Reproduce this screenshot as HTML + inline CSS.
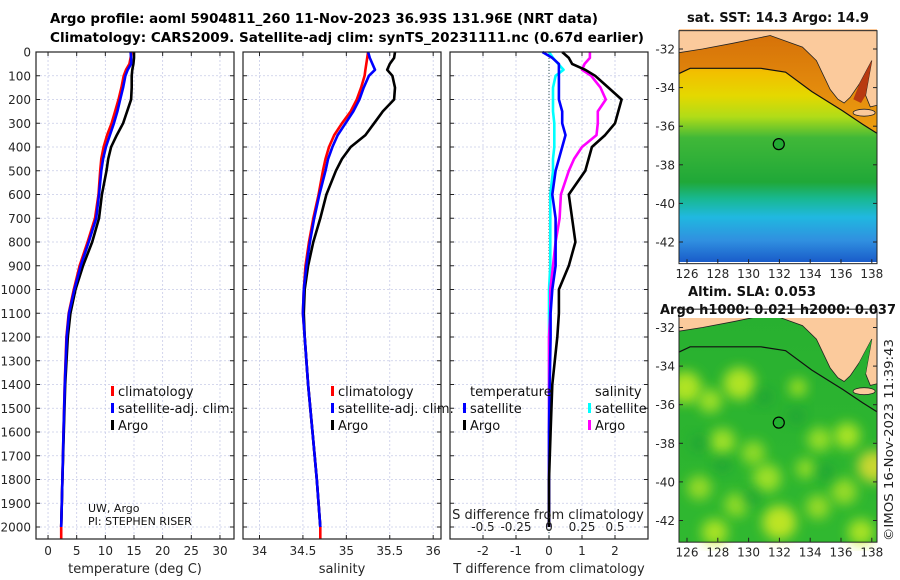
<!DOCTYPE html>
<html><head><meta charset="utf-8">
<style>
html,body{margin:0;padding:0;background:#fff;}
svg{display:block;font-family:"DejaVu Sans","Liberation Sans",sans-serif;}
</style></head>
<body>
<svg id="fig" width="900" height="580" viewBox="0 0 900 580" xmlns="http://www.w3.org/2000/svg">
<rect width="900" height="580" fill="#fff"/>
<text x="50" y="23" font-size="13" font-weight="bold" textLength="548" lengthAdjust="spacingAndGlyphs">Argo profile: aoml 5904811_260 11-Nov-2023 36.93S 131.96E (NRT data)</text>
<text x="50" y="42" font-size="13" font-weight="bold" textLength="594" lengthAdjust="spacingAndGlyphs">Climatology: CARS2009. Satellite-adj clim: synTS_20231111.nc (0.67d earlier)</text>
<g id="plots"></g>
<g id="maps"></g>
<text transform="translate(893,541) rotate(-90)" font-size="12" fill="#222" textLength="202" lengthAdjust="spacingAndGlyphs">©IMOS 16-Nov-2023 11:39:43</text>
</svg>
<script>
// ---- data ----
const depths = [0,25,50,75,100,150,200,250,300,350,400,450,500,600,700,800,900,1000,1100,1200,1400,1600,1800,2000];
const argoT = [15.0,15.0,14.9,14.7,14.6,14.6,14.5,13.8,13.1,12.0,11.0,10.5,10.2,9.4,8.9,7.7,6.1,4.8,3.9,3.45,3.0,2.75,2.5,2.3];
const climT = [14.6,14.4,14.2,13.6,13.2,12.8,12.3,11.7,11.1,10.3,9.7,9.3,9.1,8.8,8.2,6.9,5.5,4.5,3.6,3.2,2.9,2.7,2.5,2.3];
const satT  = [14.4,14.5,14.5,13.9,13.5,13.1,12.6,12.1,11.5,10.8,10.1,9.6,9.3,8.9,8.4,7.1,5.7,4.6,3.65,3.25,2.92,2.7,2.5,2.3];
const argoS = [35.56,35.55,35.50,35.47,35.53,35.56,35.55,35.42,35.32,35.22,35.05,34.95,34.88,34.77,34.70,34.62,34.56,34.52,34.51,34.52,34.56,34.61,34.66,34.70];
const climS = [35.25,35.24,35.23,35.22,35.21,35.17,35.12,35.05,34.95,34.86,34.80,34.76,34.73,34.68,34.62,34.57,34.53,34.51,34.50,34.52,34.56,34.61,34.66,34.70];
const satS  = [35.25,35.27,35.30,35.33,35.26,35.20,35.15,35.08,34.99,34.90,34.84,34.79,34.76,34.69,34.63,34.58,34.54,34.51,34.50,34.52,34.56,34.61,34.66,34.70];
const depthTicks = [0,100,200,300,400,500,600,700,800,900,1000,1100,1200,1300,1400,1500,1600,1700,1800,1900,2000];
const tempTicks = [0,5,10,15,20,25,30];
const salTicks = [34,34.5,35,35.5,36];
const tdiffTicks = [-2,-1,0,1,2];
const sdiffTicks = [-0.5,-0.25,0,0.25,0.5];
const sdiffLabels = ['-0.5','-0.25','0','0.25','0.5'];

const NS='http://www.w3.org/2000/svg';
function mk(tag,attrs,parent){const e=document.createElementNS(NS,tag);for(const k in attrs)e.setAttribute(k,attrs[k]);parent.appendChild(e);return e;}
const plots=document.getElementById('plots');
const yTop=52, yBot=539;
function yOf(d){return yTop+d*0.2375;}

const panels=[
 {x0:36,x1:234,lo:-2.1,hi:32.45,name:'temperature-panel'},
 {x0:243,x1:441,lo:33.81,hi:36.09,name:'salinity-panel'},
 {x0:450,x1:648,lo:-3,hi:3,name:'difference-panel'}
];
function sx(p,v){return p.x0+(v-p.lo)/(p.hi-p.lo)*(p.x1-p.x0);}

panels.forEach((p,i)=>{
  const g=mk('g',{},plots);
  
  
  const ticks = i==0?tempTicks:(i==1?salTicks:tdiffTicks);
  ticks.forEach(t=>{
    const x=sx(p,t);
    const gl=mk('line',{x1:x,x2:x,y1:yTop,y2:yBot,stroke:'#c8cce8','stroke-width':0.8,'stroke-dasharray':'2,2'},g);
    
    
    mk('line',{x1:x,x2:x,y1:yBot,y2:yBot-4,stroke:'#222'},g);
    mk('line',{x1:x,x2:x,y1:yTop,y2:yTop+4,stroke:'#222'},g);
    const tl=mk('text',{x:x,y:555,'font-size':12,'text-anchor':'middle',fill:'#262626'},g);
    tl.textContent = String(t);
    
    
  });
  depthTicks.forEach(d=>{
    const y=yOf(d);
    const gl=mk('line',{x1:p.x0,x2:p.x1,y1:y,y2:y,stroke:'#c8cce8','stroke-width':0.8,'stroke-dasharray':'2,2'},g);
    
    
    mk('line',{x1:p.x0,x2:p.x0+4,y1:y,y2:y,stroke:'#222'},g);
    mk('line',{x1:p.x1,x2:p.x1-4,y1:y,y2:y,stroke:'#222'},g);
    if(i==0){
      const tl=mk('text',{x:31,y:y+4.5,'font-size':12,'text-anchor':'end',fill:'#262626'},g);
      tl.textContent=String(d);
      
      
    }
  });
  if(i==2){
    const z=sx(p,0);
    mk('line',{x1:z,x2:z,y1:yTop,y2:yBot,stroke:'#355','stroke-width':1,'stroke-dasharray':'1,2'},g);
  }
});

function line(p,vals,color,name,ext,f){
  const pts=depths.map((d,k)=>sx(p,f?f(k):vals[k]).toFixed(1)+','+yOf(d).toFixed(1));
  if(ext){const last=f?f(depths.length-1):vals[vals.length-1];pts.push(sx(p,last).toFixed(1)+','+yOf(2050).toFixed(1));}
  const e=mk('polyline',{points:pts.join(' '),fill:'none',stroke:color,'stroke-width':2.6,'stroke-linejoin':'round'},plots);
  
  
}
const P0=panels[0],P1=panels[1],P2=panels[2];
line(P0,climT,'#f00','temp-climatology-line',true);
line(P0,argoT,'#000','temp-argo-line',false);
line(P0,satT,'#00f','temp-satellite-line',false);
line(P1,climS,'#f00','sal-climatology-line',true);
line(P1,argoS,'#000','sal-argo-line',false);
line(P1,satS,'#00f','sal-satellite-line',false);
const sdScale=3/0.75;
line(P2,null,'#0ff','sdiff-satellite-line',false,k=>(satS[k]-climS[k])*sdScale);
line(P2,null,'#f0f','sdiff-argo-line',false,k=>(argoS[k]-climS[k])*sdScale);
line(P2,null,'#00f','tdiff-satellite-line',false,k=>satT[k]-climT[k]);
line(P2,null,'#000','tdiff-argo-line',false,k=>argoT[k]-climT[k]);

panels.forEach(p=>{
  const r=mk('rect',{x:p.x0,y:yTop,width:p.x1-p.x0,height:yBot-yTop,fill:'none',stroke:'#222','stroke-width':1.2},plots);
  
  
});
sdiffTicks.forEach((t,k)=>{
  const x=sx(P2,t*sdScale);
  const tl=mk('text',{x:x,y:531,'font-size':12,'text-anchor':'middle',fill:'#222'},plots);
  tl.textContent=sdiffLabels[k];
  
  
});
function txt(x,y,s,name,size,anchor,fill){
  const t=mk('text',{x:x,y:y,'font-size':size||12,'text-anchor':anchor||'start',fill:fill||'#262626'},plots);
  t.textContent=s;
  
  
  return t;
}
txt(548,519,'S difference from climatology','sdiff-axis-title',13,'middle','#222');
txt(135,573,'temperature (deg C)','temp-axis-title',13,'middle');
txt(342,573,'salinity','sal-axis-title',13,'middle');
txt(549,573,'T difference from climatology','tdiff-axis-title',13,'middle');
txt(88,512,'UW, Argo','institution-label',11,'start','#111');
txt(88,525,'PI: STEPHEN RISER','pi-label',11,'start','#111');
function leg(x,y,color,label,name){
  const m=mk('rect',{x:x,y:y-10,width:3,height:10,fill:color},plots);
  
  
  txt(x+7,y,label,name,13,'start','#111');
}
leg(111,396,'#f00','climatology','legend-climatology');
leg(111,413,'#00f','satellite-adj. clim.','legend-satellite-adj');
leg(111,430,'#000','Argo','legend-argo');
leg(331,396,'#f00','climatology','legend2-climatology');
leg(331,413,'#00f','satellite-adj. clim.','legend2-satellite-adj');
leg(331,430,'#000','Argo','legend2-argo');
txt(470,396,'temperature','legend-temperature-title',13,'start','#111');
txt(595,396,'salinity','legend-salinity-title',13,'start','#111');
leg(463,413,'#00f','satellite','legend-tdiff-satellite');
leg(463,430,'#000','Argo','legend-tdiff-argo');
leg(588,413,'#0ff','satellite','legend-sdiff-satellite');
leg(588,430,'#f0f','Argo','legend-sdiff-argo');

// ---- maps ----
const maps=document.getElementById('maps');
const lonTicks=[126,128,130,132,134,136,138];
const latTicks=[-32,-34,-36,-38,-40,-42];
const landPoly=[[125.4,-30.9],[138.4,-30.9],[138.4,-34.9],[137.9,-35.0],[137.6,-34.4],[137.8,-33.5],[138.0,-32.6],[137.6,-33.2],[137.2,-33.8],[136.6,-34.5],[136.2,-34.8],[135.8,-34.6],[135.3,-34.1],[134.4,-32.6],[133.5,-31.9],[131.4,-31.3],[129,-31.7],[127,-32.0],[125.4,-32.2]];
const gulfPoly=[[137.2,-33.8],[137.6,-33.2],[138.0,-32.6],[137.8,-33.5],[137.6,-34.4],[137.3,-34.8],[136.8,-34.6]];
const contour=[[125.4,-33.3],[126.2,-33.0],[130.8,-33.0],[132.4,-33.2],[134.1,-34.2],[136.1,-35.2],[137.4,-35.9],[138.4,-36.4]];
const defs=mk('defs',{},maps);
defs.innerHTML='<linearGradient id="sst" x1="0" y1="0" x2="0" y2="1">'+
 '<stop offset="0" stop-color="#e89008"/><stop offset="0.1" stop-color="#eca008"/><stop offset="0.18" stop-color="#f2c000"/>'+
 '<stop offset="0.28" stop-color="#e4d800"/><stop offset="0.37" stop-color="#b0dc18"/><stop offset="0.46" stop-color="#40b838"/>'+
 '<stop offset="0.65" stop-color="#20a838"/><stop offset="0.72" stop-color="#18b890"/><stop offset="0.8" stop-color="#20b8e0"/>'+
 '<stop offset="0.9" stop-color="#3090e0"/><stop offset="1" stop-color="#1858c8"/></linearGradient>'+
 '<linearGradient id="shelf" x1="0" y1="0" x2="0" y2="1"><stop offset="0" stop-color="#d46e08"/><stop offset="1" stop-color="#eea010"/></linearGradient>'+
 '<linearGradient id="sla" x1="0" y1="0" x2="0" y2="1"><stop offset="0" stop-color="#28b030"/><stop offset="1" stop-color="#30b830"/></linearGradient>'+
 '<filter id="blur" x="-50%" y="-50%" width="200%" height="200%"><feGaussianBlur stdDeviation="6"/></filter>'+
 '<clipPath id="clip1"><rect x="679" y="29" width="198" height="233"/></clipPath>'+
 '<clipPath id="clip2"><rect x="679" y="318" width="198" height="233"/></clipPath>';
function drawMap(y0,name,fillId,clipId){
  const g=mk('g',{},maps);
  
  
  const gc=mk('g',{'clip-path':'url(#'+clipId+')'},g);
  const X=lon=>687+(lon-126)*15.4;
  const Y=lat=>y0+(-32-lat)*19.3;
  const P=a=>a.map(p=>X(p[0]).toFixed(1)+','+Y(p[1]).toFixed(1)).join(' ');
  mk('rect',{x:679,y:Y(-31.05),width:198,height:233,fill:'url(#'+fillId+')'},gc);
  if(fillId=='sla'){
    [[125.9,-35.1,16,'#d0f020'],[127.5,-35.8,12,'#b8ea28'],[129.4,-34.9,16,'#d0f020'],[133.2,-35.1,9,'#b8ea20'],[128.3,-37.9,13,'#b8ea28'],[130.3,-38.5,12,'#a8e428'],[131.2,-39.8,14,'#b8ea28'],[134.6,-37.8,12,'#b0e828'],[136.4,-37.6,13,'#c8f020'],[138.1,-39.2,16,'#f0e030'],[132,-42.1,17,'#e0f020'],[126.8,-40.3,12,'#b0e428'],[129.2,-41.2,12,'#a8e428'],[134.5,-41.3,12,'#b0e428'],[136.2,-40.5,13,'#b0e428'],[127.8,-42.6,13,'#c8ee20'],[137.3,-42.6,13,'#c8ee20'],[133.7,-39.3,10,'#a8e428']].forEach(b=>{
      mk('circle',{cx:X(b[0]),cy:Y(b[1]),r:b[2],fill:b[3],opacity:0.8,filter:'url(#blur)'},gc);
    });
    [[128.3,-39.1],[131,-35.6],[133.1,-36.6],[126.8,-38],[130.2,-40.8],[135,-39.5]].forEach(b=>mk('circle',{cx:X(b[0]),cy:Y(b[1]),r:9,fill:'#189838',opacity:0.5,filter:'url(#blur)'},gc));
  } else {
    const shelf=contour.slice();
    shelf.push([138.4,-30.9]);shelf.push([125.4,-30.9]);
    mk('polygon',{points:P(shelf),fill:'url(#shelf)'},gc);
  }
  mk('polygon',{points:P(landPoly),fill:'#fbca9c',stroke:'#222','stroke-width':0.8},gc);
  mk('polygon',{points:P(gulfPoly),fill:fillId=='sla'?'#28b030':'#b83a10',stroke:'none'},gc);
  mk('ellipse',{cx:X(137.5),cy:Y(-35.3),rx:11,ry:3.5,fill:'#fbca9c',stroke:'#222','stroke-width':0.8},gc);
  mk('polyline',{points:P(contour),fill:'none',stroke:'#111','stroke-width':1.2},gc);
  const c=mk('circle',{cx:X(131.96),cy:Y(-36.93),r:5.5,fill:fillId=='sla'?'#22b030':'#22aa33',stroke:'#000','stroke-width':1.2},g);
  
  
  mk('rect',{x:679,y:Y(-31.05),width:198,height:233,fill:'none',stroke:'#222','stroke-width':1},g);
  lonTicks.forEach(l=>{
    mk('line',{x1:X(l),x2:X(l),y1:Y(-43.1),y2:Y(-43.1)-4,stroke:'#222'},g);
    const t=mk('text',{x:X(l),y:Y(-43.1)+15,'font-size':12,'text-anchor':'middle',fill:'#262626'},g);
    t.textContent=String(l);
    
    
  });
  latTicks.forEach(l=>{
    mk('line',{x1:877,x2:873,y1:Y(l),y2:Y(l),stroke:'#222'},g);
    mk('line',{x1:679,x2:683,y1:Y(l),y2:Y(l),stroke:'#222'},g);
    const t=mk('text',{x:675,y:Y(l)+4.5,'font-size':12,'text-anchor':'end',fill:'#262626'},g);
    t.textContent=String(l);
    
    
  });
}
drawMap(49,'sst-map','sst','clip1');
drawMap(327.5,'sla-map','sla','clip2');
function mt(x,y,s,name,w){const t=mk('text',{x:x,y:y,'font-size':13,'font-weight':'bold','text-anchor':'middle',fill:'#111'},maps);if(w){t.setAttribute('textLength',w);t.setAttribute('lengthAdjust','spacingAndGlyphs');}t.textContent=s;}
mt(778,22,'sat. SST: 14.3 Argo: 14.9','sst-map-title',182);
mt(752,296,'Altim. SLA: 0.053','sla-map-title',128);
mt(778,314,'Argo h1000: 0.021 h2000: 0.037','sla-map-subtitle',236);
</script>
</body></html>
